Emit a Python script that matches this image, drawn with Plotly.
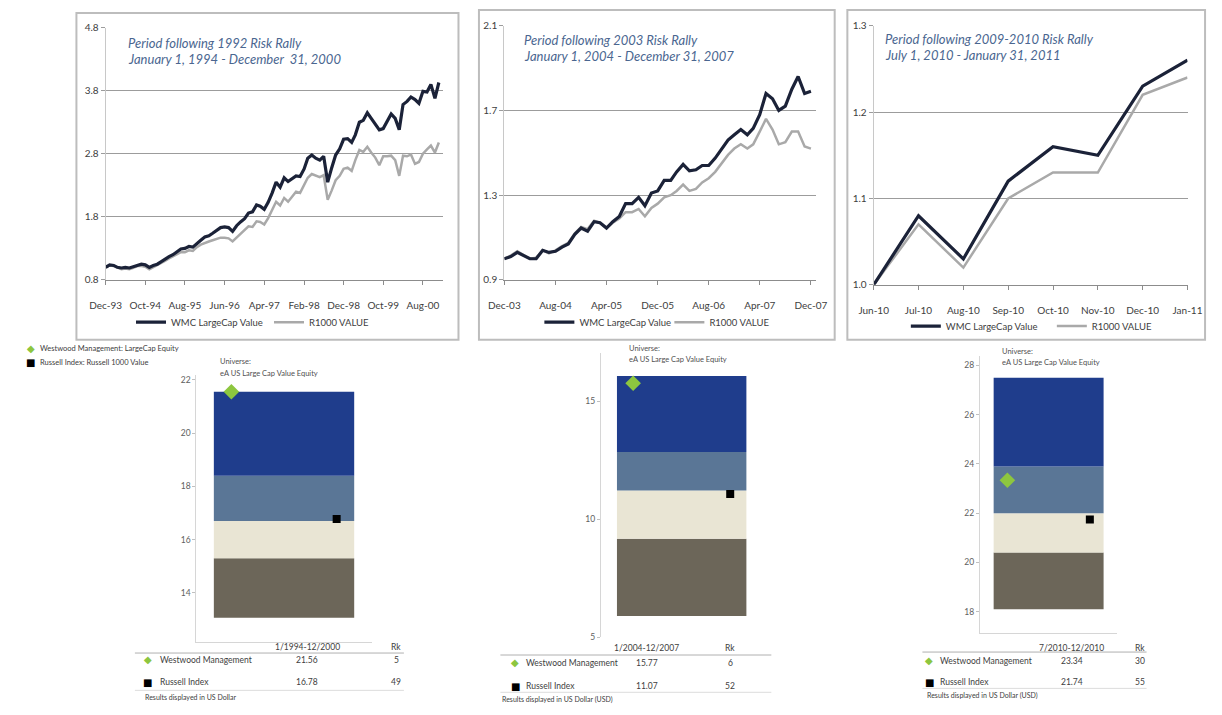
import plotly.graph_objects as go
import pandas as pd

W, H = 1222, 715
def px(x): return x / W
def py(y): return 1 - y / H

FONT = "Lato, 'Open Sans', sans-serif"

# ---------------- data ----------------
WMC_1 = [1.00, 1.04, 1.03, 1.00, 0.99, 1.00, 0.99, 1.01, 1.04, 1.05,
         1.04, 1.00, 1.03, 1.05, 1.09, 1.13, 1.17, 1.20, 1.24, 1.29,
         1.30, 1.33, 1.32, 1.38, 1.43, 1.48, 1.50, 1.54, 1.58, 1.63,
         1.64, 1.63, 1.57, 1.66, 1.72, 1.77, 1.86, 1.88, 1.99, 1.97,
         1.92, 2.03, 2.18, 2.35, 2.27, 2.42, 2.36, 2.40, 2.45, 2.44,
         2.56, 2.73, 2.78, 2.73, 2.70, 2.76, 2.35, 2.58, 2.78, 2.88,
         3.03, 3.04, 2.98, 3.10, 3.30, 3.33, 3.45, 3.36, 3.28, 3.18,
         3.20, 3.32, 3.43, 3.36, 3.18, 3.58, 3.63, 3.70, 3.66, 3.60,
         3.79, 3.78, 3.90, 3.68, 3.93]
R1000_1 = [1.00, 1.03, 1.02, 0.99, 0.97, 0.98, 0.97, 0.99, 1.02, 1.02,
           1.01, 0.97, 1.00, 1.03, 1.07, 1.10, 1.14, 1.17, 1.20, 1.24,
           1.24, 1.27, 1.26, 1.32, 1.36, 1.39, 1.41, 1.43, 1.45, 1.47,
           1.47, 1.46, 1.41, 1.47, 1.53, 1.58, 1.65, 1.64, 1.73, 1.72,
           1.68, 1.78, 1.92, 2.04, 1.98, 2.10, 2.04, 2.12, 2.20, 2.18,
           2.30, 2.42, 2.48, 2.45, 2.43, 2.46, 2.07, 2.22, 2.38, 2.45,
           2.56, 2.58, 2.53, 2.70, 2.86, 2.83, 2.91, 2.82, 2.74, 2.62,
           2.76, 2.76, 2.77, 2.70, 2.45, 2.77, 2.76, 2.79, 2.64, 2.67,
           2.80, 2.87, 2.93, 2.82, 2.98]

WMC_2 = [1.00, 1.01, 1.03, 1.015, 1.00, 1.00, 1.04, 1.03, 1.035, 1.055,
         1.07, 1.115, 1.145, 1.13, 1.175, 1.17, 1.145, 1.175, 1.20, 1.26,
         1.26, 1.29, 1.25, 1.31, 1.32, 1.37, 1.37, 1.41, 1.445, 1.415,
         1.42, 1.44, 1.44, 1.475, 1.52, 1.56, 1.585, 1.61, 1.585, 1.615,
         1.68, 1.78, 1.755, 1.70, 1.72, 1.80, 1.86, 1.78, 1.79]
R1000_2 = [1.00, 1.015, 1.035, 1.02, 1.00, 1.005, 1.04, 1.025, 1.04, 1.06,
           1.075, 1.12, 1.15, 1.14, 1.18, 1.17, 1.145, 1.17, 1.19, 1.22,
           1.22, 1.235, 1.20, 1.24, 1.26, 1.29, 1.30, 1.32, 1.35, 1.32,
           1.33, 1.36, 1.38, 1.41, 1.45, 1.49, 1.52, 1.54, 1.52, 1.54,
           1.60, 1.66, 1.61, 1.54, 1.55, 1.60, 1.60, 1.53, 1.52]

MONTHS_3 = ["Jun-10", "Jul-10", "Aug-10", "Sep-10", "Oct-10", "Nov-10", "Dec-10", "Jan-11"]
WMC_3 = [1.00, 1.08, 1.03, 1.12, 1.16, 1.15, 1.23, 1.26]
R1000_3 = [1.00, 1.07, 1.02, 1.10, 1.13, 1.13, 1.22, 1.24]

SERIES_NAMES = ["WMC LargeCap Value", "R1000 VALUE"]
TITLES = [("Period following 1992 Risk Rally", "January 1, 1994 - December  31, 2000"),
          ("Period following 2003 Risk Rally", "January 1, 2004 - December 31, 2007"),
          ("Period following 2009-2010 Risk Rally", "July 1, 2010 - January 31, 2011")]

# floating-bar universe percentiles (low -> high edges)
BANDS_1 = [13.07, 15.30, 16.70, 18.40, 21.56]
BANDS_2 = [5.90, 9.17, 11.22, 12.85, 16.08]
BANDS_3 = [18.10, 20.40, 22.00, 23.90, 27.50]
PERIODS = ["1/1994-12/2000", "1/2004-12/2007", "7/2010-12/2010"]
WESTWOOD = [21.56, 15.77, 23.34]
WESTWOOD_RK = [5, 6, 30]
RUSSELL = [16.78, 11.07, 21.74]
RUSSELL_RK = [49, 52, 55]
FOOTERS = ["Results displayed in US Dollar", "Results displayed in US Dollar (USD)",
           "Results displayed in US Dollar (USD)"]
UNIVERSE = ["Universe:", "eA US Large Cap Value Equity"]

# ---------------- styles ----------------
C_WMC = "#1b2238"
C_R1000 = "#a9a9a9"
C_GRID = "#9c9c9c"
C_TITLE = "#4a6690"
BAND_COLORS = ["#6c6659", "#e9e5d4", "#5a7696", "#1f3d8c"]
C_GREEN = "#8dc63f"

fig = go.Figure()

dates_1 = pd.date_range("1993-12-01", periods=len(WMC_1), freq="MS")
dates_2 = pd.date_range("2003-12-01", periods=len(WMC_2), freq="MS")

top = [(dates_1, WMC_1, R1000_1, "x", "y", "legend"),
       (dates_2, WMC_2, R1000_2, "x2", "y2", "legend2"),
       (MONTHS_3, WMC_3, R1000_3, "x3", "y3", "legend3")]
for xs, a, b, xa, ya, lg in top:
    # R1000 first so that WMC is drawn on top; legends are reversed
    fig.add_trace(go.Scatter(x=list(xs), y=b, mode="lines", name=SERIES_NAMES[1],
                             line=dict(color=C_R1000, width=2.5), xaxis=xa, yaxis=ya,
                             legend=lg, hoverinfo="skip"))
    fig.add_trace(go.Scatter(x=list(xs), y=a, mode="lines", name=SERIES_NAMES[0],
                             line=dict(color=C_WMC, width=3.2), xaxis=xa, yaxis=ya,
                             legend=lg, hoverinfo="skip"))

bands = [BANDS_1, BANDS_2, BANDS_3]
for i in range(3):
    e = bands[i]
    xa, ya = f"x{4+i}", f"y{4+i}"
    fig.add_trace(go.Bar(x=[0] * 4, base=e[:-1], y=[e[j + 1] - e[j] for j in range(4)],
                         width=0.8, marker=dict(color=BAND_COLORS, line=dict(width=0)),
                         xaxis=xa, yaxis=ya, showlegend=False, hoverinfo="skip"))
    fig.add_trace(go.Scatter(x=[-0.3], y=[WESTWOOD[i]], mode="markers",
                             marker=dict(symbol="diamond", size=12, color=C_GREEN),
                             xaxis=xa, yaxis=ya, showlegend=False, hoverinfo="skip"))
    fig.add_trace(go.Scatter(x=[0.3], y=[RUSSELL[i]], mode="markers",
                             marker=dict(symbol="square", size=8, color="black"),
                             xaxis=xa, yaxis=ya, showlegend=False, hoverinfo="skip"))

tickfont = dict(family=FONT, size=10, color="#404040")
base_y = dict(showgrid=True, gridcolor=C_GRID, gridwidth=1.2, zeroline=False,
              showline=True, linecolor="#c8c8c8", linewidth=1, ticks="outside",
              ticklen=4, tickcolor="#9c9c9c", tickfont=tickfont, fixedrange=True)
base_x = dict(showgrid=False, zeroline=False, showline=True, linecolor="#8c8c8c",
              linewidth=1.2, ticks="outside", ticklen=4, tickcolor="#8c8c8c",
              tickfont=tickfont, ticklabelstandoff=12, fixedrange=True)

layout = dict(
    width=W, height=H, margin=dict(l=0, r=0, t=0, b=0), autosize=False,
    paper_bgcolor="white", plot_bgcolor="rgba(0,0,0,0)",
    barmode="overlay", font=dict(family=FONT),
    xaxis=dict(base_x, domain=[px(92), px(438)], type="date",
               range=["1993-12-01", "2001-01-01"], tick0="1993-12-01", dtick="M10",
               tickformat="%b-%y", anchor="y"),
    yaxis=dict(base_y, domain=[py(278), py(21)], range=[0.8, 4.8], tick0=0.8, dtick=1,
               tickformat=".1f", anchor="x"),
    xaxis2=dict(base_x, domain=[px(501), px(821)], type="date",
                range=["2003-12-01", "2007-12-26"], tick0="2003-12-01", dtick="M8",
                tickformat="%b-%y", anchor="y2"),
    yaxis2=dict(base_y, domain=[py(278), py(19)], range=[0.9, 2.1], tick0=0.9, dtick=0.4,
                tickformat=".1f", anchor="x2"),
    xaxis3=dict(base_x, domain=[px(880), px(1202)], type="category", range=[0, 7],
                anchor="y3"),
    yaxis3=dict(base_y, domain=[py(283), py(19)], range=[1.0, 1.3], tick0=1.0, dtick=0.1,
                tickformat=".1f", anchor="x3"),
)

box_dom_x = [(185, 365), (600, 766), (989, 1130)]
box_dom_y = [(375, 647), (352, 642), (355, 638)]
box_range = [(12.15, 22.18), (4.99, 17.07), (17.12, 28.4)]
box_dtick = [2, 5, 2]
box_tick0 = [14, 5, 18]
for i in range(3):
    n = 4 + i
    layout[f"xaxis{n}"] = dict(domain=[px(box_dom_x[i][0]), px(box_dom_x[i][1])],
                               range=[-0.5, 0.5], showgrid=False, zeroline=False,
                               showticklabels=False, showline=(i != 1),
                               linecolor="#d6d6d6", linewidth=1, anchor=f"y{n}",
                               fixedrange=True)
    layout[f"yaxis{n}"] = dict(domain=[py(box_dom_y[i][1]), py(box_dom_y[i][0])],
                               range=list(box_range[i]), tick0=box_tick0[i],
                               dtick=box_dtick[i], showgrid=False, zeroline=False,
                               showline=True, linecolor="#d6d6d6", linewidth=1,
                               ticks="outside", ticklen=3, tickcolor="#c0c0c0",
                               tickfont=dict(family=FONT, size=8.5, color="#606060"),
                               anchor=f"x{n}", fixedrange=True)

leg_font = dict(family=FONT, size=9.5, color="#404040")
for key, lx, ly, ew in (("legend", 118, 321, 93), ("legend2", 537, 321, 85),
                        ("legend3", 913, 325, 101)):
    layout[key] = dict(orientation="h", x=px(lx), y=py(ly), xanchor="left",
                       yanchor="middle", font=leg_font, bgcolor="rgba(0,0,0,0)",
                       entrywidth=ew, itemwidth=30, traceorder="reversed")
fig.update_layout(**layout)

# ---------------- frames ----------------
shapes = []
for (x0, x1, y0, y1) in [(62, 454, 6, 339), (475, 840, 3, 339), (853, 1220, 3, 339)]:
    shapes.append(dict(type="rect", xref="paper", yref="paper", x0=px(x0), x1=px(x1),
                       y0=py(y1), y1=py(y0), line=dict(color="#bdbdbd", width=2)))

ann = []
def text(x, y, s, size=9, color="#404040", anchor="left", italic=False, family=FONT):
    ann.append(dict(xref="paper", yref="paper", x=px(x), y=py(y), text=s,
                    showarrow=False, xanchor=anchor, yanchor="middle",
                    font=dict(family=family, size=size, color=color,
                              style="italic" if italic else "normal")))

# chart titles
title_pos = [(113, 37, 53), (519, 34, 50), (890, 33, 49)]
for (x, y1, y2), (t1, t2) in zip(title_pos, TITLES):
    text(x, y1, t1, size=13, color=C_TITLE, italic=True)
    text(x, y2, t2, size=13, color=C_TITLE, italic=True)

# bottom-left legend
text(15, 348, "◆", size=10, color=C_GREEN, anchor="center", family="DejaVu Sans")
text(23, 348, "Westwood Management: LargeCap Equity", size=7.5, color="#404040")
text(15, 362, "■", size=10, color="black", anchor="center", family="DejaVu Sans")
text(23, 362, "Russell Index: Russell 1000 Value", size=7.5, color="#404040")

# universe labels
uni_pos = [(207, 361, 373), (627, 348, 359), (1010, 351, 362)]
for x, y1, y2 in uni_pos:
    text(x, y1, UNIVERSE[0], size=7.5, color="#505050")
    text(x, y2, UNIVERSE[1], size=7.5, color="#505050")

# tables
tables = [
    dict(sym=135, name=146, val=299, rk=390, hy=652, r1=665, r2=688, l1=658, l2=696,
         lx=(122, 398), fx=130, fy=703),
    dict(sym=512, name=521, val=647, rk=733, hy=653, r1=668, r2=692, l1=660, l2=698,
         lx=(497, 775), fx=497, fy=705),
    dict(sym=937, name=946, val=1083, rk=1153, hy=653, r1=666, r2=688, l1=657, l2=694,
         lx=(930, 1160), fx=933, fy=701),
]
for i, t in enumerate(tables):
    text(t["val"], t["hy"], PERIODS[i], size=8.5, anchor="center")
    text(t["rk"], t["hy"], "Rk", size=8.5, anchor="center")
    text(t["sym"], t["r1"], "◆", size=10, color=C_GREEN, anchor="center", family="DejaVu Sans")
    text(t["name"], t["r1"], "Westwood Management", size=8.5)
    text(t["val"], t["r1"], f"{WESTWOOD[i]:.2f}", size=8.5, anchor="center")
    text(t["rk"], t["r1"], str(WESTWOOD_RK[i]), size=8.5, anchor="center")
    text(t["sym"], t["r2"], "■", size=10, color="black", anchor="center", family="DejaVu Sans")
    text(t["name"], t["r2"], "Russell Index", size=8.5)
    text(t["val"], t["r2"], f"{RUSSELL[i]:.2f}", size=8.5, anchor="center")
    text(t["rk"], t["r2"], str(RUSSELL_RK[i]), size=8.5, anchor="center")
    text(t["fx"], t["fy"], FOOTERS[i], size=7, color="#404040")
    for ly, c in ((t["l1"], "#b0b0b0"), (t["l2"], "#dcdcdc")):
        shapes.append(dict(type="line", xref="paper", yref="paper", x0=px(t["lx"][0]),
                           x1=px(t["lx"][1]), y0=py(ly), y1=py(ly),
                           line=dict(color=c, width=1)))

fig.update_layout(shapes=shapes, annotations=ann)
fig.write_html("out.html", config={"responsive": False},
               post_script="document.body.style.margin='0';document.body.style.overflow='hidden';")
